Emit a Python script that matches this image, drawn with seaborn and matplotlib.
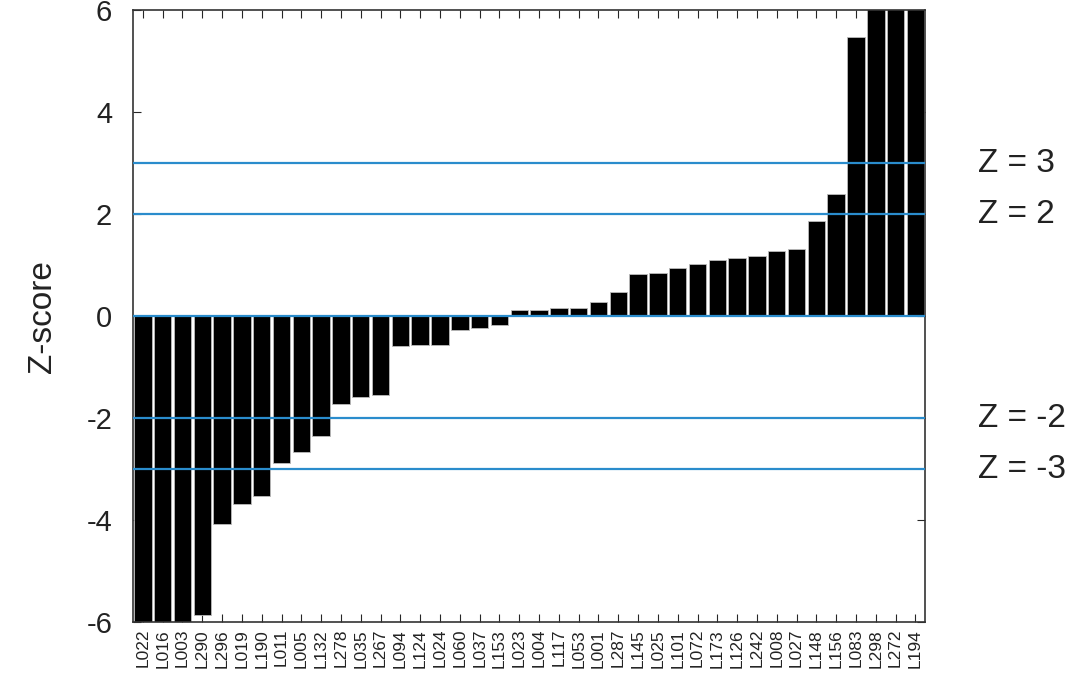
import numpy as np
import pandas as pd
import matplotlib
matplotlib.use("Agg")
import matplotlib.pyplot as plt
import matplotlib.transforms as mtransforms
import seaborn as sns

labs = ["L022", "L016", "L003", "L290", "L296", "L019", "L190", "L011", "L005", "L132",
        "L278", "L035", "L267", "L094", "L124", "L024", "L060", "L037", "L153", "L023",
        "L004", "L117", "L053", "L001", "L287", "L145", "L025", "L101", "L072", "L173",
        "L126", "L242", "L008", "L027", "L148", "L156", "L083", "L298", "L272", "L194"]
zvals = [-6.5, -6.5, -6.5, -5.86, -4.07, -3.69, -3.53, -2.88, -2.67, -2.35,
         -1.73, -1.58, -1.54, -0.59, -0.56, -0.56, -0.27, -0.23, -0.18, 0.12,
         0.12, 0.16, 0.16, 0.28, 0.48, 0.83, 0.85, 0.95, 1.03, 1.11,
         1.14, 1.18, 1.27, 1.32, 1.86, 2.40, 5.47, 6.5, 6.5, 6.5]
umbrales = [3, 2, -2, -3]

sns.set_style("ticks")
plt.rcParams["font.family"] = ["Liberation Sans", "DejaVu Sans"]
plt.rcParams["axes.unicode_minus"] = False

df = pd.DataFrame({"lab": labs, "z": zvals})

fig = plt.figure(figsize=(10.81, 6.85), dpi=100)
ax = fig.add_axes([0.123, 0.092, 0.733, 0.893])
sns.barplot(data=df, x="lab", y="z", color="black", width=0.88,
            edgecolor="#bbbbbb", linewidth=0.6, saturation=1, ax=ax)

# lineas de umbral
for u in [3, 2, 0, -2, -3]:
    ax.axhline(u, color="#2a8ccc", lw=1.6, zorder=3)

trans = mtransforms.blended_transform_factory(ax.transAxes, ax.transData)
for u in umbrales:
    ax.text(1.066, u, f"Z = {u}", transform=trans, fontsize=24,
            va="center", ha="left", color="#222222")

ax.set_xlim(-0.5, len(labs) - 0.5)
ax.set_ylim(-6, 6)
ax.set_yticks([-6, -4, -2, 0, 2, 4, 6])
ax.tick_params(axis="y", labelsize=21, direction="in", right=True, length=6, pad=15,
               labelcolor="#222222")
ax.tick_params(axis="x", labelsize=12.5, direction="in", top=True, length=6,
               rotation=90, pad=5, labelcolor="#222222")
ax.set_xlabel("")
ax.set_ylabel("Z-score", fontsize=24, labelpad=20, color="#222222")
for s in ax.spines.values():
    s.set_linewidth(1.2)
    s.set_color("#333333")

fig.savefig("out.png", dpi=100)
